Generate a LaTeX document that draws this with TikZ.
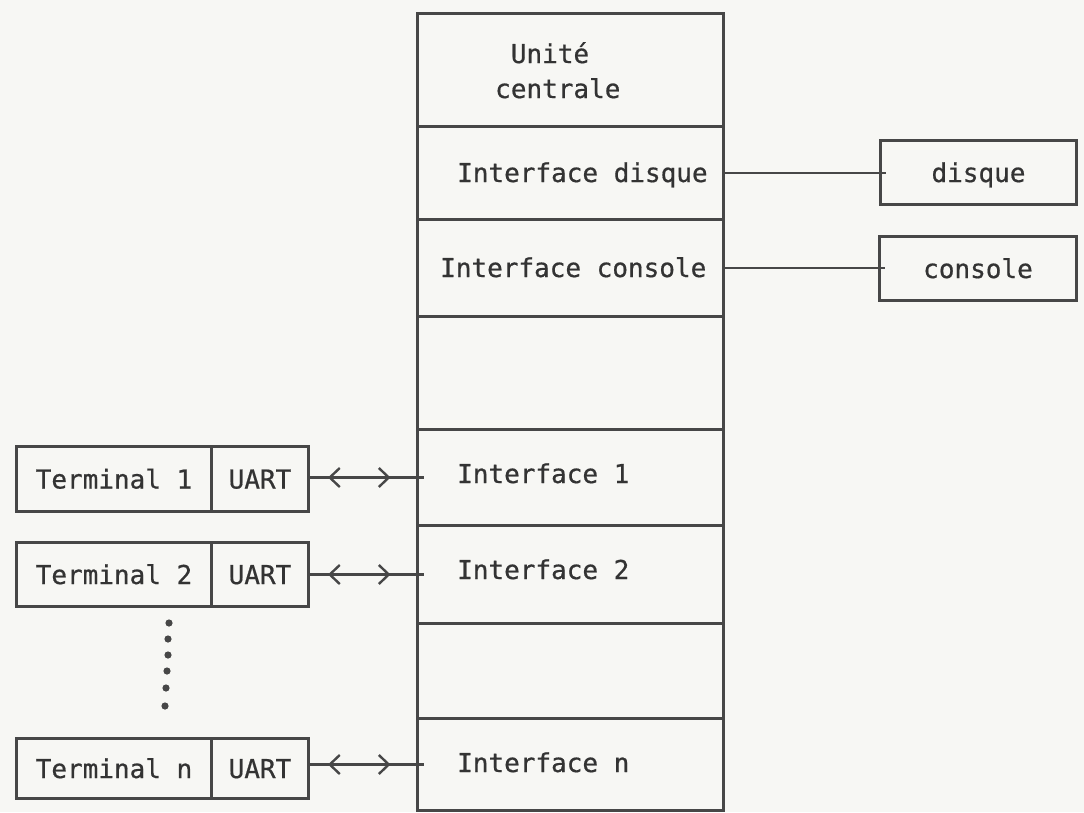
\documentclass[tikz,border=0pt]{standalone}
\usepackage{fontspec}
\newfontfamily\tw[FakeBold=0.6]{DejaVu Sans Mono}
\usetikzlibrary{arrows.meta,decorations.markings}
\definecolor{ink}{HTML}{474747}
\definecolor{txt}{HTML}{333333}
\definecolor{paper}{HTML}{F7F7F4}
\begin{document}
\begin{tikzpicture}[x=1pt,y=-1pt,
  every node/.style={font=\tw\fontsize{26}{35}\selectfont, text=txt},
  cell/.style={draw=ink, line width=3pt, minimum width=306pt, inner sep=0pt, anchor=north west},
  lbl/.style={anchor=base west, inner sep=0pt},
  sidebox/.style={draw=ink, line width=3pt, anchor=north west, inner sep=0pt,
                  text height=19pt, text depth=0pt},
  wire/.style={draw=ink, line width=2.8pt},
  biarrow/.style={wire, shorten >=-8pt, postaction={decorate},
    decoration={markings,
      mark=at position 0.17 with {\arrowreversed{Straight Barb[length=10pt,width=19pt,line width=2.4pt]}},
      mark=at position 0.76 with {\arrow{Straight Barb[length=10pt,width=19pt,line width=2.4pt]}}}},
]
\fill[paper] (0,0) rectangle (1084,812);
\useasboundingbox (0,0) rectangle (1084,812);

% central column
\node[cell, minimum height=113pt] (c1) at (416,12) {};
\node[cell, minimum height=93pt]  (c2) at (416,125) {};
\node[cell, minimum height=97pt]  (c3) at (416,218) {};
\node[cell, minimum height=113pt] (c4) at (416,315) {};
\node[cell, minimum height=96pt]  (c5) at (416,428) {};
\node[cell, minimum height=98pt]  (c6) at (416,524) {};
\node[cell, minimum height=95pt]  (c7) at (416,622) {};
\node[cell, minimum height=92pt]  (c8) at (416,717) {};

% labels in the column
\node[lbl, align=left] (luc) at (495,98) {\phantom{c}Unité\\centrale};
\node[lbl] (ldisk) at (457,182) {Interface disque};
\node[lbl] (lcons) at (440,277) {Interface console};
\node[lbl] (li1) at (457,483) {Interface 1};
\node[lbl] (li2) at (457,579) {Interface 2};
\node[lbl] (lin) at (457,772) {Interface n};

% peripherals
\node[sidebox, minimum width=196pt, minimum height=64pt] (disque) at (879,139) {disque};
\node[sidebox, minimum width=197pt, minimum height=64pt] (console) at (878,235) {console};
\draw[wire, shorten >=-7pt] (c2.east) -- (c2.east -| disque.west);
\draw[wire, shorten >=-7pt] (c3.east) -- (c3.east -| console.west);

% terminals
\node[sidebox, minimum width=195pt, minimum height=65pt] (t1) at (15,445) {Terminal 1};
\node[sidebox, minimum width=97pt,  minimum height=65pt] (u1) at (210,445) {UART};
\node[sidebox, minimum width=195pt, minimum height=64pt] (t2) at (15,541) {Terminal 2};
\node[sidebox, minimum width=97pt,  minimum height=64pt] (u2) at (210,541) {UART};
\node[sidebox, minimum width=195pt, minimum height=60pt] (tn) at (15,737) {Terminal n};
\node[sidebox, minimum width=97pt,  minimum height=60pt] (un) at (210,737) {UART};

\draw[biarrow] (c5.west -| u1.east) -- (c5.west);
\draw[biarrow] (c6.west -| u2.east) -- (c6.west);
\draw[biarrow] (c8.west -| un.east) -- (c8.west);

% dots
\foreach \px/\py in {169/623,168/639,168/655,167/671,166/688,165/706}
  \fill[ink] (\px,\py) circle[radius=3.6pt];
\end{tikzpicture}
\end{document}
